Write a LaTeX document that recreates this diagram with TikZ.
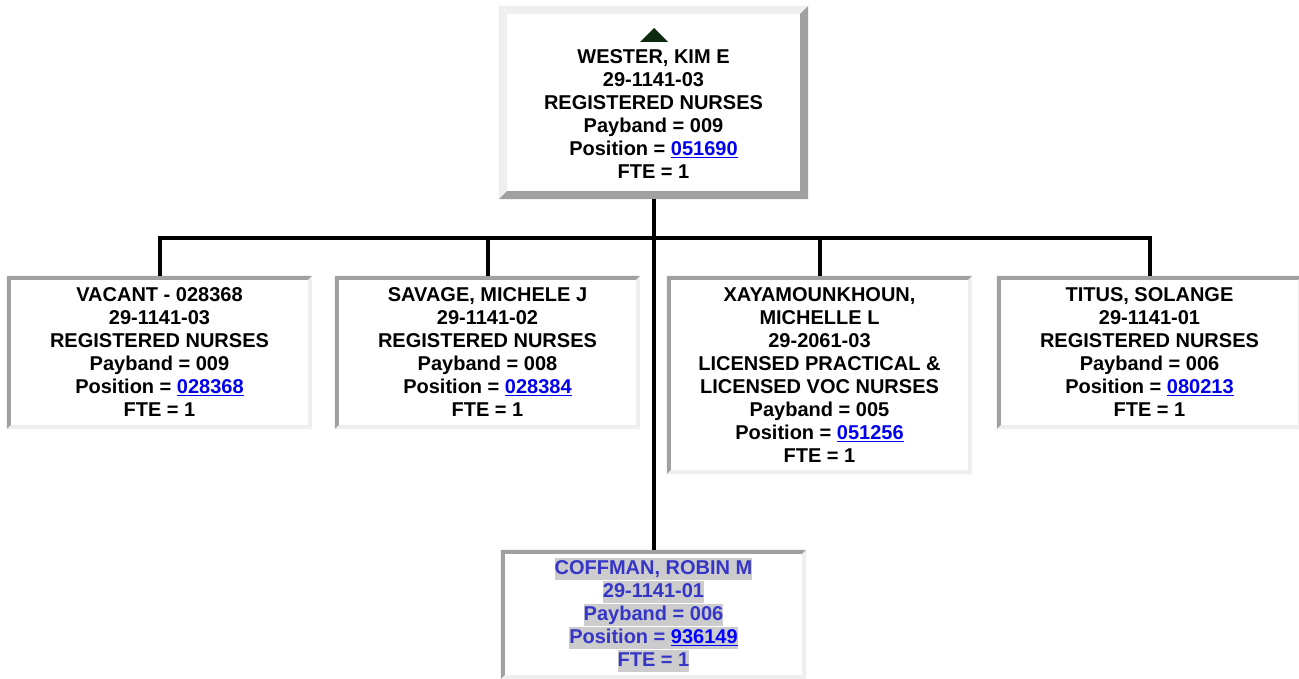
\documentclass[tikz,border=0pt]{standalone}
\usepackage{fontspec}
\setmainfont{Liberation Sans}
\definecolor{bdark}{HTML}{A0A0A0}
\definecolor{blight}{HTML}{EFEFEF}
\definecolor{linkblue}{HTML}{0000EE}
\definecolor{cofblue}{HTML}{3535C8}
\definecolor{hlgray}{HTML}{CCCCCC}
\definecolor{trigreen}{HTML}{0B2A10}
\newcommand\lnk[1]{\textcolor{linkblue}{\underline{#1}}}
\newcommand\hlline[1]{{\setlength\fboxsep{0pt}\colorbox{hlgray}{\rule[-5pt]{0pt}{22pt}#1}}}
\newcommand\mybevel[4]{%
  \fill[#3] (#1.north west) -- (#1.north east) -- ([xshift=-#2,yshift=-#2]#1.north east)
    -- ([xshift=#2,yshift=-#2]#1.north west) -- ([xshift=#2,yshift=#2]#1.south west) -- (#1.south west) -- cycle;
  \fill[#4] (#1.south east) -- (#1.north east) -- ([xshift=-#2,yshift=-#2]#1.north east)
    -- ([xshift=-#2,yshift=#2]#1.south east) -- ([xshift=#2,yshift=#2]#1.south west) -- (#1.south west) -- cycle;}
\tikzset{
  orgbox/.style={rectangle, fill=white, draw=none, inner sep=0pt, align=center,
    font=\fontsize{20}{23}\selectfont\bfseries},
  childbox/.style={orgbox, minimum width=305pt, minimum height=153pt},
  conn/.style={draw=black, line width=4pt, line cap=butt, line join=miter}
}
\begin{document}
\begin{tikzpicture}[x=1pt,y=-1pt]
\useasboundingbox (0,0) rectangle (1299,679);
\fill[white] (0,0) rectangle (1299,679);

% boxes
\node[orgbox, minimum width=309pt, minimum height=193pt] (top) at (653.5,102.5)
  {\rule{0pt}{14pt}\\WESTER, KIM E\\29-1141-03\\REGISTERED NURSES\\Payband = 009\\Position = \lnk{051690}\\FTE = 1};
\node[childbox] (vac) at (159.5,352.5)
  {VACANT - 028368\\29-1141-03\\REGISTERED NURSES\\Payband = 009\\Position = \lnk{028368}\\FTE = 1};
\node[childbox] (sav) at (487.5,352.5)
  {SAVAGE, MICHELE J\\29-1141-02\\REGISTERED NURSES\\Payband = 008\\Position = \lnk{028384}\\FTE = 1};
\node[childbox, minimum height=198pt] (xay) at (819.5,375)
  {XAYAMOUNKHOUN,\\MICHELLE L\\29-2061-03\\LICENSED PRACTICAL \&\\LICENSED VOC NURSES\\Payband = 005\\Position = \lnk{051256}\\FTE = 1};
\node[childbox] (tit) at (1149.5,352.5)
  {TITUS, SOLANGE\\29-1141-01\\REGISTERED NURSES\\Payband = 006\\Position = \lnk{080213}\\FTE = 1};
\node[childbox, minimum height=129pt, text=cofblue] (cof) at (653.5,614.5)
  {\hlline{COFFMAN, ROBIN M}\\\hlline{29-1141-01}\\\hlline{Payband = 006}\\\hlline{Position = \textcolor{blue}{\underline{936149}}}\\\hlline{FTE = 1}};

% bevelled borders
\mybevel{top}{8pt}{blight}{bdark}
\mybevel{vac}{4pt}{bdark}{blight}
\mybevel{sav}{4pt}{bdark}{blight}
\mybevel{xay}{4pt}{bdark}{blight}
\mybevel{tit}{4pt}{bdark}{blight}
\mybevel{cof}{4pt}{bdark}{blight}

% collapse triangle
\fill[trigreen] (654,28) -- (668,42) -- (640,42) -- cycle;

% connectors
\coordinate (bus) at (654,238);
\draw[conn] (top.south) -- (cof.north);
\draw[conn] (vac.north) -- (vac.north |- bus) -- (tit.north |- bus) -- (tit.north);
\draw[conn] (sav.north) -- (sav.north |- bus);
\draw[conn] (xay.north) -- (xay.north |- bus);
\end{tikzpicture}
\end{document}
